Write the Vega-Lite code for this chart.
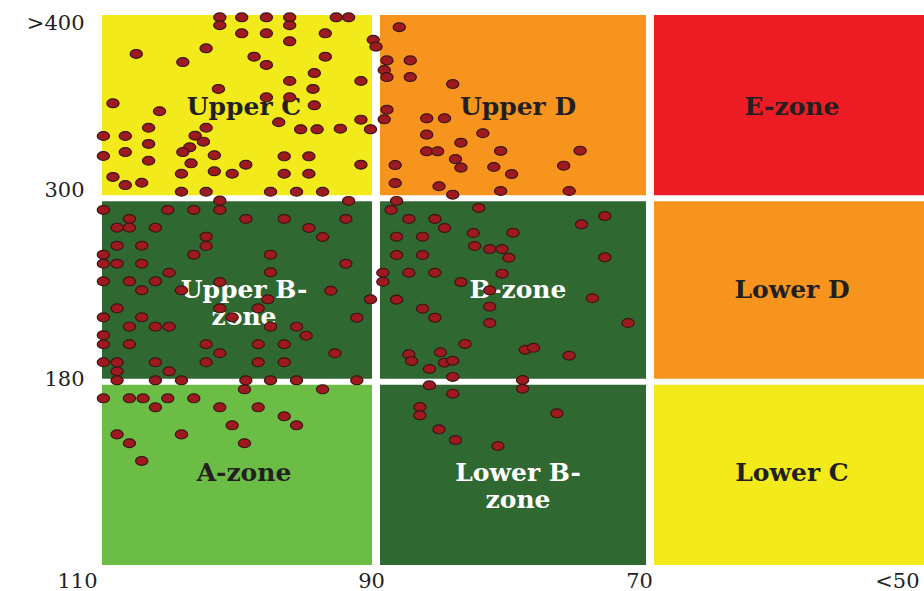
{
  "$schema": "https://vega.github.io/schema/vega-lite/v6.json",
  "width": 822,
  "height": 550,
  "autosize": {"type": "none"},
  "padding": {"left": 102, "top": 15, "right": 0, "bottom": 26},
  "background": "white",
  "config": {"view": {"stroke": null}},
  "datasets": {
    "zones": [
      {"zone": "Upper C", "label": "Upper C", "x1": 110, "x2": 90, "y1": 300, "y2": 420, "xm": 100, "ym": 360},
      {"zone": "Upper D", "label": "Upper D", "x1": 90, "x2": 70, "y1": 300, "y2": 420, "xm": 80, "ym": 360},
      {"zone": "E-zone", "label": "E-zone", "x1": 70, "x2": 50, "y1": 300, "y2": 420, "xm": 60, "ym": 360},
      {"zone": "Upper B-zone", "label": "Upper B-\nzone", "x1": 110, "x2": 90, "y1": 180, "y2": 300, "xm": 100, "ym": 240},
      {"zone": "B-zone", "label": "B-zone", "x1": 90, "x2": 70, "y1": 180, "y2": 300, "xm": 80, "ym": 240},
      {"zone": "Lower D", "label": "Lower D", "x1": 70, "x2": 50, "y1": 180, "y2": 300, "xm": 60, "ym": 240},
      {"zone": "A-zone", "label": "A-zone", "x1": 110, "x2": 90, "y1": 60, "y2": 180, "xm": 100, "ym": 120},
      {"zone": "Lower B-zone", "label": "Lower B-\nzone", "x1": 90, "x2": 70, "y1": 60, "y2": 180, "xm": 80, "ym": 120},
      {"zone": "Lower C", "label": "Lower C", "x1": 70, "x2": 50, "y1": 60, "y2": 180, "xm": 60, "ym": 120}
    ],
    "vlines": [{"v": 90}, {"v": 70}],
    "hlines": [{"v": 180}, {"v": 300}],
    "points": [
      {"x": 101.4, "y": 418.5}, {"x": 101.4, "y": 413.3}, {"x": 99.8, "y": 418.5}, {"x": 98.0, "y": 418.5},
      {"x": 96.3, "y": 418.5}, {"x": 96.3, "y": 413.3}, {"x": 92.9, "y": 418.5}, {"x": 92.0, "y": 418.5},
      {"x": 99.8, "y": 408.0}, {"x": 98.0, "y": 408.0}, {"x": 96.3, "y": 402.8}, {"x": 93.7, "y": 408.0},
      {"x": 90.2, "y": 403.8}, {"x": 90.0, "y": 399.3}, {"x": 107.5, "y": 394.5}, {"x": 102.4, "y": 398.2},
      {"x": 104.1, "y": 389.2}, {"x": 101.5, "y": 371.6}, {"x": 98.9, "y": 392.7}, {"x": 98.0, "y": 387.3},
      {"x": 93.7, "y": 392.7}, {"x": 94.5, "y": 382.0}, {"x": 96.3, "y": 376.8}, {"x": 91.1, "y": 376.8},
      {"x": 94.6, "y": 371.6}, {"x": 98.0, "y": 366.1}, {"x": 96.3, "y": 366.1}, {"x": 94.5, "y": 360.9},
      {"x": 109.2, "y": 362.2}, {"x": 105.8, "y": 357.0}, {"x": 97.1, "y": 349.8}, {"x": 95.5, "y": 345.2},
      {"x": 94.3, "y": 345.2}, {"x": 92.6, "y": 345.6}, {"x": 91.1, "y": 351.5}, {"x": 90.4, "y": 345.2},
      {"x": 106.6, "y": 346.2}, {"x": 102.4, "y": 346.2}, {"x": 109.9, "y": 340.8}, {"x": 108.3, "y": 340.8},
      {"x": 103.2, "y": 341.0}, {"x": 102.6, "y": 337.1}, {"x": 106.6, "y": 335.6}, {"x": 103.6, "y": 333.4},
      {"x": 104.1, "y": 330.3}, {"x": 109.9, "y": 327.7}, {"x": 108.3, "y": 330.3}, {"x": 101.8, "y": 328.2},
      {"x": 106.6, "y": 324.6}, {"x": 103.5, "y": 322.9}, {"x": 109.2, "y": 314.0}, {"x": 108.3, "y": 308.7},
      {"x": 107.1, "y": 310.2}, {"x": 104.2, "y": 316.1}, {"x": 101.8, "y": 317.7}, {"x": 100.5, "y": 316.1},
      {"x": 104.2, "y": 304.3}, {"x": 102.4, "y": 304.3}, {"x": 96.7, "y": 327.5}, {"x": 94.9, "y": 327.5},
      {"x": 99.5, "y": 322.0}, {"x": 96.7, "y": 316.1}, {"x": 94.9, "y": 316.1}, {"x": 91.1, "y": 322.0},
      {"x": 97.7, "y": 304.3}, {"x": 95.8, "y": 304.3}, {"x": 93.9, "y": 304.3},
      {"x": 88.3, "y": 412.0}, {"x": 89.2, "y": 390.3}, {"x": 87.5, "y": 390.3}, {"x": 89.4, "y": 384.0},
      {"x": 89.2, "y": 379.4}, {"x": 87.5, "y": 379.4}, {"x": 84.4, "y": 374.8}, {"x": 89.2, "y": 358.0},
      {"x": 89.4, "y": 351.7}, {"x": 86.3, "y": 352.4}, {"x": 85.0, "y": 352.4}, {"x": 86.3, "y": 341.7},
      {"x": 82.2, "y": 342.6}, {"x": 83.8, "y": 336.4}, {"x": 86.3, "y": 330.8}, {"x": 85.5, "y": 330.8},
      {"x": 80.9, "y": 331.0}, {"x": 75.1, "y": 331.2}, {"x": 84.2, "y": 325.7}, {"x": 83.8, "y": 320.1},
      {"x": 88.6, "y": 321.8}, {"x": 81.4, "y": 320.5}, {"x": 80.1, "y": 315.9}, {"x": 76.3, "y": 321.4},
      {"x": 88.6, "y": 310.0}, {"x": 85.4, "y": 307.9}, {"x": 84.4, "y": 302.4}, {"x": 80.9, "y": 304.8},
      {"x": 75.9, "y": 304.8},
      {"x": 101.4, "y": 298.5}, {"x": 92.0, "y": 298.3}, {"x": 109.9, "y": 292.4}, {"x": 105.2, "y": 292.4},
      {"x": 103.3, "y": 292.4}, {"x": 101.4, "y": 292.4}, {"x": 108.0, "y": 286.5}, {"x": 108.9, "y": 280.8},
      {"x": 108.0, "y": 280.8}, {"x": 106.1, "y": 280.8}, {"x": 102.4, "y": 274.9}, {"x": 102.4, "y": 268.8},
      {"x": 108.9, "y": 269.0}, {"x": 107.1, "y": 269.0}, {"x": 103.3, "y": 263.1}, {"x": 109.9, "y": 263.1},
      {"x": 109.9, "y": 257.2}, {"x": 108.9, "y": 257.2}, {"x": 107.1, "y": 257.2}, {"x": 105.1, "y": 251.3},
      {"x": 109.9, "y": 245.7}, {"x": 108.0, "y": 245.7}, {"x": 106.1, "y": 245.7}, {"x": 101.4, "y": 245.2},
      {"x": 107.1, "y": 239.8}, {"x": 104.2, "y": 239.8}, {"x": 108.9, "y": 228.0}, {"x": 101.4, "y": 228.0},
      {"x": 109.9, "y": 222.1}, {"x": 107.1, "y": 222.1}, {"x": 100.5, "y": 222.1}, {"x": 108.0, "y": 216.0},
      {"x": 106.1, "y": 216.0}, {"x": 105.1, "y": 216.0}, {"x": 109.9, "y": 210.4}, {"x": 109.9, "y": 204.5},
      {"x": 108.0, "y": 204.5}, {"x": 102.4, "y": 204.5}, {"x": 101.4, "y": 198.6}, {"x": 109.9, "y": 192.7},
      {"x": 108.9, "y": 192.7}, {"x": 106.1, "y": 192.7}, {"x": 102.4, "y": 192.7}, {"x": 108.9, "y": 186.8},
      {"x": 105.1, "y": 186.8}, {"x": 108.9, "y": 180.9}, {"x": 106.1, "y": 180.9}, {"x": 104.2, "y": 180.9},
      {"x": 99.5, "y": 286.5}, {"x": 96.7, "y": 286.5}, {"x": 92.2, "y": 286.5}, {"x": 94.9, "y": 280.6},
      {"x": 93.9, "y": 274.7}, {"x": 97.7, "y": 263.1}, {"x": 92.2, "y": 257.2}, {"x": 97.7, "y": 251.6},
      {"x": 93.3, "y": 239.5}, {"x": 97.9, "y": 233.9}, {"x": 98.6, "y": 228.0}, {"x": 90.4, "y": 233.9},
      {"x": 91.4, "y": 221.9}, {"x": 97.7, "y": 216.0}, {"x": 95.8, "y": 216.0}, {"x": 95.1, "y": 210.1},
      {"x": 98.6, "y": 204.5}, {"x": 96.7, "y": 204.5}, {"x": 93.0, "y": 198.6}, {"x": 98.6, "y": 192.7},
      {"x": 96.7, "y": 192.7}, {"x": 99.5, "y": 180.9}, {"x": 97.7, "y": 180.9}, {"x": 95.8, "y": 180.9},
      {"x": 91.4, "y": 180.9},
      {"x": 88.5, "y": 298.3}, {"x": 88.9, "y": 292.4}, {"x": 82.5, "y": 293.7}, {"x": 73.3, "y": 288.4},
      {"x": 75.0, "y": 283.0}, {"x": 87.6, "y": 286.5}, {"x": 85.7, "y": 286.5}, {"x": 85.0, "y": 280.6},
      {"x": 88.5, "y": 274.9}, {"x": 86.6, "y": 274.9}, {"x": 82.9, "y": 277.3}, {"x": 80.0, "y": 277.5},
      {"x": 82.8, "y": 268.8}, {"x": 81.7, "y": 266.8}, {"x": 80.8, "y": 266.8}, {"x": 80.3, "y": 261.1},
      {"x": 73.3, "y": 261.4}, {"x": 88.5, "y": 262.9}, {"x": 86.6, "y": 262.9}, {"x": 89.5, "y": 251.3},
      {"x": 89.5, "y": 245.4}, {"x": 87.6, "y": 251.3}, {"x": 85.7, "y": 251.3}, {"x": 80.8, "y": 250.7},
      {"x": 83.8, "y": 245.2}, {"x": 81.7, "y": 239.8}, {"x": 88.5, "y": 233.7}, {"x": 74.2, "y": 234.6},
      {"x": 86.6, "y": 227.8}, {"x": 81.7, "y": 229.1}, {"x": 85.7, "y": 221.9}, {"x": 81.7, "y": 218.4},
      {"x": 71.6, "y": 218.4}, {"x": 83.5, "y": 204.7}, {"x": 87.6, "y": 197.9}, {"x": 87.4, "y": 193.5},
      {"x": 85.3, "y": 199.2}, {"x": 85.0, "y": 192.4}, {"x": 84.4, "y": 193.7}, {"x": 79.1, "y": 200.9},
      {"x": 78.5, "y": 202.2}, {"x": 75.9, "y": 197.0}, {"x": 86.1, "y": 188.3}, {"x": 84.4, "y": 183.1},
      {"x": 79.3, "y": 181.1},
      {"x": 99.6, "y": 175.0}, {"x": 93.9, "y": 175.0}, {"x": 109.9, "y": 169.1}, {"x": 108.0, "y": 169.1},
      {"x": 107.0, "y": 169.1}, {"x": 105.2, "y": 169.1}, {"x": 103.3, "y": 169.1}, {"x": 106.1, "y": 163.2},
      {"x": 101.4, "y": 163.2}, {"x": 98.6, "y": 163.2}, {"x": 96.7, "y": 157.3}, {"x": 100.5, "y": 151.4},
      {"x": 95.8, "y": 151.4}, {"x": 108.9, "y": 145.5}, {"x": 104.2, "y": 145.5}, {"x": 108.0, "y": 139.7},
      {"x": 99.6, "y": 139.7}, {"x": 107.1, "y": 128.1},
      {"x": 86.1, "y": 177.6}, {"x": 79.3, "y": 175.4}, {"x": 84.4, "y": 172.1}, {"x": 86.8, "y": 163.4},
      {"x": 86.8, "y": 158.0}, {"x": 76.8, "y": 159.3}, {"x": 85.4, "y": 148.8}, {"x": 84.2, "y": 141.8},
      {"x": 81.1, "y": 137.9}
    ]
  },
  "layer": [
    {
      "data": {"name": "zones"},
      "mark": {"type": "rect"},
      "encoding": {
        "x": {
          "field": "x1", "type": "quantitative",
          "scale": {"domain": [50, 110], "reverse": true, "nice": false, "zero": false},
          "axis": {
            "values": [110, 90, 70, 50],
            "labelExpr": "datum.value == 50 ? '<50' : datum.label",
            "title": null, "domain": false, "ticks": false, "grid": false,
            "labelFont": "DejaVu Serif", "labelFontSize": 21, "labelColor": "#231f20",
            "labelPadding": 5, "labelFlush": false, "labelOverlap": false, "labelBaseline": "top",
            "labelAlign": {"condition": {"test": "datum.value == 110 || datum.value == 50", "value": "right"}, "value": "center"},
            "labelOffset": {"condition": {"test": "datum.value == 70", "value": -11}, "value": -5}
          }
        },
        "x2": {"field": "x2"},
        "y": {
          "field": "y1", "type": "quantitative",
          "scale": {"domain": [60, 420], "nice": false, "zero": false},
          "axis": {
            "values": [180, 300, 420],
            "labelExpr": "datum.value == 420 ? '>400' : datum.label",
            "title": null, "domain": false, "ticks": false, "grid": false,
            "labelFont": "DejaVu Serif", "labelFontSize": 21, "labelColor": "#231f20",
            "labelPadding": 18, "labelFlush": false, "labelOverlap": false, "labelBaseline": "middle",
            "labelOffset": {"condition": [{"test": "datum.value == 420", "value": 8}, {"test": "datum.value == 300", "value": -8}], "value": -2}
          }
        },
        "y2": {"field": "y2"},
        "color": {
          "field": "zone", "type": "nominal", "legend": null,
          "scale": {
            "domain": ["Upper C", "Upper D", "E-zone", "Upper B-zone", "B-zone", "Lower D", "A-zone", "Lower B-zone", "Lower C"],
            "range": ["#f2ea1a", "#f7941d", "#ed1c24", "#306832", "#306832", "#f7941d", "#6bbd45", "#306832", "#f2ea1a"]
          }
        }
      }
    },
    {
      "data": {"name": "vlines"},
      "mark": {"type": "rule", "color": "white", "strokeWidth": 8},
      "encoding": {
        "x": {"field": "v", "type": "quantitative", "scale": {"domain": [50, 110], "reverse": true, "nice": false, "zero": false}}
      }
    },
    {
      "data": {"name": "hlines"},
      "mark": {"type": "rule", "color": "white", "strokeWidth": 6},
      "encoding": {
        "y": {"field": "v", "type": "quantitative", "scale": {"domain": [60, 420], "nice": false, "zero": false}}
      }
    },
    {
      "data": {"name": "zones"},
      "mark": {"type": "text", "font": "DejaVu Serif", "fontSize": 25, "fontWeight": "bold", "lineBreak": "\n", "lineHeight": 27, "dx": 5, "align": "center", "baseline": "middle"},
      "encoding": {
        "x": {"field": "xm", "type": "quantitative", "scale": {"domain": [50, 110], "reverse": true, "nice": false, "zero": false}},
        "y": {"field": "ym", "type": "quantitative", "scale": {"domain": [60, 420], "nice": false, "zero": false}},
        "text": {"field": "label", "type": "nominal"},
        "color": {
          "condition": {"test": "datum.zone == 'Upper B-zone' || datum.zone == 'B-zone' || datum.zone == 'Lower B-zone'", "value": "white"},
          "value": "#231f20"
        }
      }
    },
    {
      "data": {"name": "points"},
      "mark": {"type": "point", "shape": "M-1,0A1,0.72 0 1,1 1,0A1,0.72 0 1,1 -1,0Z", "size": 150, "filled": true, "fill": "#9e1a1f", "stroke": "#3a1616", "strokeWidth": 1.2, "opacity": 1},
      "encoding": {
        "x": {"field": "x", "type": "quantitative", "scale": {"domain": [50, 110], "reverse": true, "nice": false, "zero": false}},
        "y": {"field": "y", "type": "quantitative", "scale": {"domain": [60, 420], "nice": false, "zero": false}}
      }
    }
  ]
}
